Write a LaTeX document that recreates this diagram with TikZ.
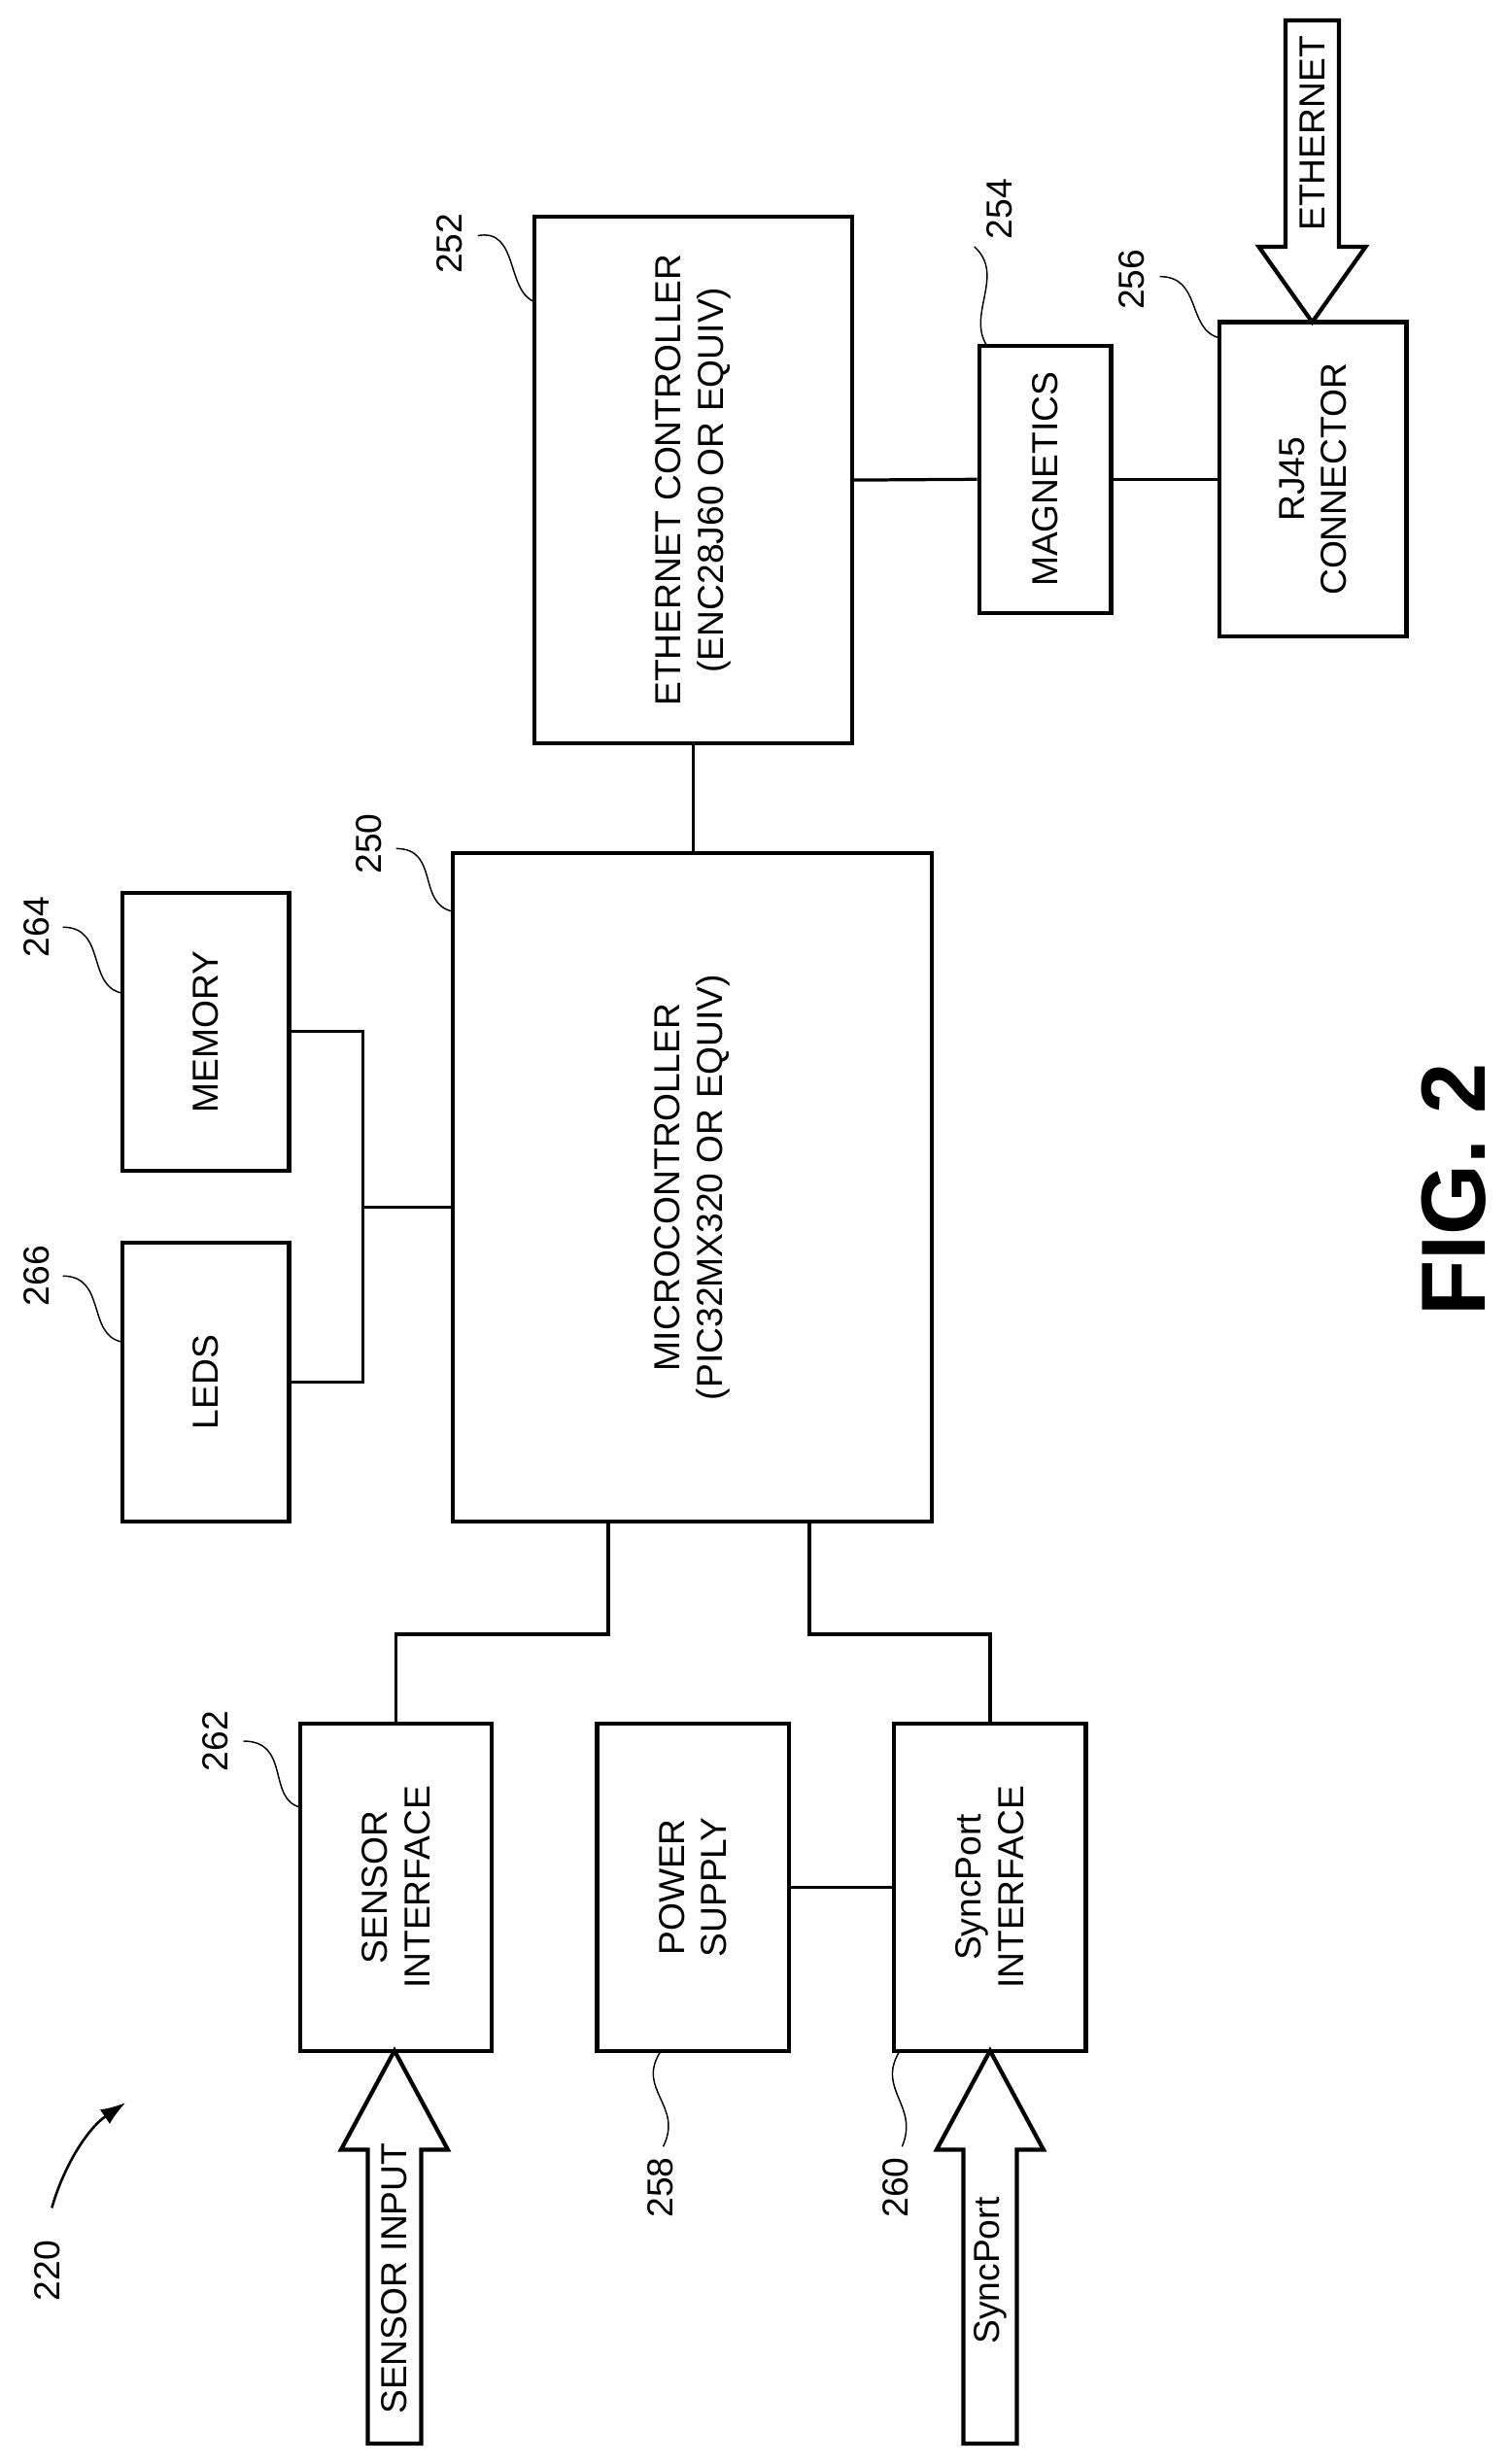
\documentclass[tikz,border=0pt]{standalone}
\usepackage{fontspec}
\setmainfont{Liberation Sans}
\usetikzlibrary{arrows.meta}
\begin{document}
\begin{tikzpicture}[x=1pt,y=-1pt,
  box/.style={draw,line width=2.6pt,inner sep=0pt},
  txt/.style={rotate=90,align=center,font=\fontsize{23}{27}\selectfont},
  num/.style={rotate=90,font=\fontsize{23}{27}\selectfont},
  ln/.style={line width=2pt},
  lead/.style={line width=0.9pt},
  harrow/.style={line width=2.6pt,line join=miter}]
\useasboundingbox (0,0) rectangle (960,1568);
% boxes
\node[box,minimum width=202pt,minimum height=335pt] (eth) at (441,305.5) {};
\node[txt] at (eth.center) {ETHERNET CONTROLLER\\(ENC28J60 OR EQUIV)};
\node[box,minimum width=84pt,minimum height=170pt] (mag) at (665,305) {};
\node[txt] at (mag.center) {MAGNETICS};
\node[box,minimum width=119pt,minimum height=200pt] (rj) at (835.5,305) {};
\node[txt] at (rj.center) {RJ45\\CONNECTOR};
\node[box,minimum width=305pt,minimum height=425pt] (mc) at (440.5,755.5) {};
\node[txt] at (mc.center) {MICROCONTROLLER\\(PIC32MX320 OR EQUIV)};
\node[box,minimum width=106pt,minimum height=177pt] (mem) at (131,656.5) {};
\node[txt] at (mem.center) {MEMORY};
\node[box,minimum width=106pt,minimum height=177pt] (led) at (131,879.5) {};
\node[txt] at (led.center) {LEDS};
\node[box,minimum width=122pt,minimum height=208pt] (si) at (252,1201) {};
\node[txt] at (si.center) {SENSOR\\INTERFACE};
\node[box,minimum width=122pt,minimum height=208pt] (ps) at (441,1201) {};
\node[txt] at (ps.center) {POWER\\SUPPLY};
\node[box,minimum width=122pt,minimum height=208pt] (sp) at (630,1201) {};
\node[txt] at (sp.center) {SyncPort\\INTERFACE};
% connectors
\draw[ln] (eth.south) -- (eth.south |- mc.north);
\draw[ln] (eth.east) -- (mag.west);
\draw[ln] (mag.east) -- (rj.west);
\coordinate (j) at (231,768);
\draw[ln] (mem.east) -| (j |- mem.east) -- (j |- led.east) -- (led.east);
\draw[ln] (j) -- (j -| mc.west);
\coordinate (b1) at (387,1040);
\coordinate (b2) at (515,1040);
\draw[ln] (b1 |- mc.south) -- (b1) -| (si.north);
\draw[ln] (b2 |- mc.south) -- (b2) -| (sp.north);
\draw[ln] (ps.east) -- (sp.west);
% hollow arrows
\draw[harrow] (818,13) -- (852,13) -- (852,157) -- (869,157) -- (835,205) -- (801,157) -- (818,157) -- cycle;
\node[num] at (835,85) {ETHERNET};
\draw[harrow] (234,1555) -- (268,1555) -- (268,1368) -- (285,1368) -- (251,1305) -- (217,1368) -- (234,1368) -- cycle;
\node[num] at (251,1450) {SENSOR INPUT};
\draw[harrow] (613,1555) -- (647,1555) -- (647,1368) -- (664,1368) -- (630,1305) -- (596,1368) -- (613,1368) -- cycle;
\node[num] at (630,1445) {SyncPort};
% reference labels
\node[num] (n252) at (286,155) {252};
\draw[lead] (304,150) .. controls (330,145) and (322,185) .. (340,192);
\node[num] (n254) at (636,133) {254};
\draw[lead] (620,157) .. controls (640,175) and (615,200) .. (628,220);
\node[num] (n256) at (720,178) {256};
\draw[lead] (738,176) .. controls (765,176) and (755,210) .. (776,215);
\node[num] (n250) at (235,537) {250};
\draw[lead] (252,540) .. controls (280,540) and (265,575) .. (288,580);
\node[num] (n264) at (23,590) {264};
\draw[lead] (40,590) .. controls (68,590) and (55,628) .. (78,632);
\node[num] (n266) at (23,812) {266};
\draw[lead] (40,812) .. controls (68,812) and (55,850) .. (78,854);
\node[num] (n262) at (137,1108) {262};
\draw[lead] (155,1108) .. controls (185,1108) and (170,1145) .. (191,1150);
\node[num] (n258) at (420,1392) {258};
\draw[lead] (420,1306) .. controls (405,1330) and (435,1340) .. (422,1366);
\node[num] (n260) at (570,1392) {260};
\draw[lead] (572,1306) .. controls (558,1330) and (585,1340) .. (574,1366);
\node[num] (n220) at (30,1445) {220};
\draw[line width=1.6pt,-{Latex[length=16pt,width=11pt]}] (33,1405) .. controls (40,1380) and (55,1355) .. (80,1338);
\node[rotate=90,font=\bfseries\fontsize{58}{60}\selectfont] (fig) at (925,757) {FIG. 2};
\end{tikzpicture}
\end{document}
